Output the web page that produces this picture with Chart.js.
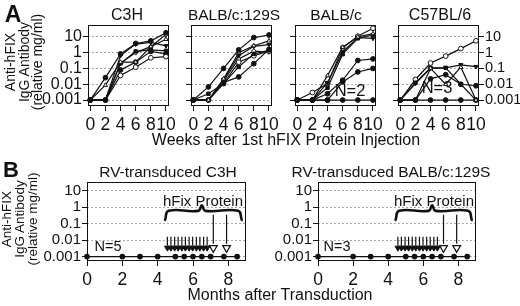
<!DOCTYPE html>
<html>
<head>
<meta charset="utf-8">
<script src="https://cdn.jsdelivr.net/npm/chart.js@4.4.0/dist/chart.umd.min.js"></script>
<style>
  body { margin: 0; width: 520px; height: 306px; overflow: hidden; background: #fff; position: relative;
         font-family: "Liberation Sans", Arial, sans-serif; color: #111; }
  canvas { position: absolute; }
  .t { position: absolute; white-space: nowrap; line-height: 1; transform: translate(-50%, -50%); }
  .yt { position: absolute; white-space: nowrap; text-align: center; transform: translate(-50%, -50%) rotate(-90deg); }
</style>
</head>
<body>
<script>
// ---- panel A: anti-hFIX IgG (relative mg/ml) after weekly protein injection ----
const weeks = [0, 2, 4, 6, 8, 10];
const decades = [0.001, 0.01, 0.1, 1, 10];

const c3h = [
  [0.001, 0.026, 0.83, 3.8, 5.6, 18],
  [0.001, 0.0087, 0.25, 0.25, 2.4, 7],
  [0.001, 0.001, 0.65, 3.5, 4.5, 2.7],
  [0.001, 0.001, 0.21, 1.2, 1.5, 1.3],
  [0.001, 0.001, 0.036, 0.12, 0.47, 0.56],
  [0.001, 0.001, 0.08, 0.25, 1.2, 0.83],
  [0.001, 0.001, 0.21, 1.0, 2.4, 14]
];
const balb129 = [
  [0.001, 0.0068, 0.1, 1.5, 9, 13],
  [0.001, 0.001, 0.022, 1.0, 2.75, 5.6],
  [0.001, 0.001, 0.02, 0.63, 2.5, 3.2],
  [0.001, 0.0025, 0.011, 0.125, 0.83, 1.4],
  [0.001, 0.001, 0.011, 0.25, 0.63, 1.25],
  [0.001, 0.001, 0.013, 0.029, 0.2, 1.6],
  [0.001, 0.001, 0.016, 0.4, 1.25, 1.1]
];
const balbc = [
  [0.001, 0.001, 0.0025, 0.018, 0.32, 0.4],
  [0.001, 0.001, 0.035, 2.2, 10, 16],
  [0.001, 0.001, 0.0125, 1.1, 9, 8],
  [0.001, 0.001, 0.006, 0.8, 8, 13],
  [0.001, 0.003, 0.011, 2, 11, 35],
  [0.001, 0.001, 0.001, 0.014, 0.06, 0.1],
  [0.001, 0.001, 0.001, 0.001, 0.001, 0.001]
];
const c57 = [
  [0.001, 0.001, 0.022, 0.04, 0.01, 0.008],
  [0.001, 0.001, 0.1, 0.01, 0.12, 0.001],
  [0.001, 0.011, 0.1, 0.11, 0.17, 0.13],
  [0.001, 0.0125, 0.11, 0.11, 0.01, 0.001],
  [0.001, 0.02, 0.22, 0.6, 1.8, 5.6],
  [0.001, 0.001, 0.001, 0.001, 0.001, 0.001]
];

// ---- panel B: retrovirus-transduced mice, months after transduction ----
const months = [0, 2, 3, 4, 5, 5.5, 6, 6.5, 7, 7.75, 8.5];
const rvC3H = [0.001, 0.001, 0.001, 0.001, 0.001, 0.001, 0.001, 0.001, 0.001, 0.001, 0.001];
const rvBalb129 = [0.001, 0.001, 0.001, 0.001, 0.001, 0.001, 0.001, 0.001, 0.001, 0.001, 0.001];
const shotMonths = [4.55, 4.75, 4.96, 5.16, 5.37, 5.57, 5.78, 5.98, 6.19, 6.39, 6.6, 6.8];
const boostMonths = [7.15, 7.9];
const shotTop = 0.016, shotEnd = 0.0045, shotTip = 0.0034;
const boostTop = 0.35, boostEnd = 0.006, boostTip = 0.0034;
const braceX = [4.42, 4.62, 6.3, 6.5, 6.7, 8.55, 8.76];
const braceY = [0.17, 0.6, 0.6, 1.3, 0.6, 0.6, 0.17];

Chart.defaults.font.family = '"Liberation Sans", Arial, sans-serif';
Chart.defaults.color = '#111';

// marker per mouse: [pointStyle, filled, rotation]
const marks = [['circle', 1], ['triangle', 0], ['triangle', 1, 180], ['rect', 1],
               ['circle', 0], ['circle', 1], ['rectRot', 0]];

const frame = {
  id: 'frame',
  beforeDatasetsDraw(chart) {
    const a = chart.chartArea, ctx = chart.ctx;
    ctx.save();
    ctx.strokeStyle = '#111';
    ctx.lineWidth = 1;
    ctx.strokeRect(Math.round(a.left) + 0.5, Math.round(a.top) + 0.5,
                   Math.round(a.right - a.left) - 1, Math.round(a.bottom - a.top) - 1);
    ctx.restore();
  }
};

function miceSets(rows) {
  return rows.map((row, i) => {
    const m = marks[i % marks.length];
    const flat = row.every(v => v === 0.001);
    return {
      data: row.map((v, j) => ({x: weeks[j], y: v})),
      borderColor: '#111', borderWidth: 1.2,
      pointStyle: flat ? 'circle' : m[0],
      pointRotation: m[2] || 0,
      pointRadius: 2.4, pointBorderWidth: 1,
      pointBackgroundColor: (flat || m[1]) ? '#111' : '#fff',
      pointBorderColor: '#111', clip: false
    };
  });
}

function arrowStems(xs, top, end) {
  const pts = [];
  xs.forEach(x => { pts.push({x: x, y: top}, {x: x, y: end}, {x: x, y: null}); });
  return pts;
}

function rvSets(values) {
  return [
    { data: months.map((m, i) => ({x: m, y: values[i]})), borderColor: '#111', borderWidth: 1.3,
      pointRadius: 2.2, pointBackgroundColor: '#111', pointBorderColor: '#111', clip: false },
    { data: arrowStems(shotMonths, shotTop, shotEnd), borderColor: '#111', borderWidth: 1.2,
      pointRadius: 0, spanGaps: false },
    { data: shotMonths.map(m => ({x: m, y: shotTip})), showLine: false, pointStyle: 'triangle',
      pointRotation: 180, pointRadius: 3.3, pointBackgroundColor: '#111', pointBorderColor: '#111' },
    { data: arrowStems(boostMonths, boostTop, boostEnd), borderColor: '#111', borderWidth: 1.2,
      pointRadius: 0, spanGaps: false },
    { data: boostMonths.map(m => ({x: m, y: boostTip})), showLine: false, pointStyle: 'triangle',
      pointRotation: 180, pointRadius: 4.5, pointBorderWidth: 1.2,
      pointBackgroundColor: '#fff', pointBorderColor: '#111' },
    { data: braceX.map((x, i) => ({x: x, y: braceY[i]})), borderColor: '#111', borderWidth: 2.6,
      pointRadius: 0, tension: 0.45, borderCapStyle: 'round' }
  ];
}

const P = 24;
function addChart(box, o) {
  const yl = o.yLeft, yr = o.yRight || 0, xh = o.xh;
  const cv = document.createElement('canvas');
  cv.width = box[2] - box[0] + yl + yr + 2 * P;
  cv.height = box[3] - box[1] + xh + 2 * P;
  cv.style.left = (box[0] - P - yl) + 'px';
  cv.style.top = (box[1] - P) + 'px';
  document.body.appendChild(cv);

  const yAxis = (pos, width, labels, onArea, size) => ({
    type: 'logarithmic', position: pos, min: o.yMin, max: o.yMax,
    afterBuildTicks: s => { s.ticks = decades.map(v => ({value: v})); },
    afterFit: s => { s.width = width; },
    grid: { drawOnChartArea: onArea, color: '#aaa', lineWidth: 1, tickLength: 5,
            tickColor: '#111', tickBorderDash: [] },
    border: { display: false, dash: [2, 2] },
    ticks: { display: labels, autoSkip: false, callback: v => String(v), font: {size: size},
             color: '#111', padding: o.yPad }
  });

  const scales = {
    x: {
      type: 'linear', min: o.xMin, max: o.xMax,
      afterBuildTicks: s => { s.ticks = o.xTicks.map(v => ({value: v})); },
      afterFit: s => { s.height = xh; },
      grid: { drawOnChartArea: false, tickLength: 5, tickColor: '#111' },
      border: { display: false },
      ticks: { font: {size: o.xFont}, color: '#111', padding: o.xPad, maxRotation: 0, autoSkip: false }
    },
    y: yAxis('left', yl, o.yLabels, true, o.yFont)
  };
  if (yr) scales.y2 = yAxis('right', yr, true, false, o.y2Font);

  new Chart(cv, {
    type: 'line',
    data: { datasets: o.datasets },
    options: {
      responsive: false, animation: false, events: [],
      layout: { padding: P },
      plugins: { legend: { display: false }, tooltip: { enabled: false } },
      scales: scales
    },
    plugins: [frame]
  });
}

// panel A geometry: x = 0 at x0, 7.55 px per week
const aCommon = { xMin: -0.3, xMax: 10.4, xTicks: weeks, yMin: 0.00042, yMax: 56,
                  xFont: 17.5, xPad: 4, xh: 32, yFont: 16, yPad: 1 };
function boxA(x0) { return [Math.round(x0 - 0.3 * 7.55), 25, Math.round(x0 + 10.4 * 7.55), 106]; }

addChart(boxA(90), Object.assign({}, aCommon, { yLeft: 50, yLabels: true, datasets: miceSets(c3h) }));
addChart(boxA(193), Object.assign({}, aCommon, { yLeft: 5, yLabels: false, datasets: miceSets(balb129) }));
addChart(boxA(297), Object.assign({}, aCommon, { yLeft: 5, yLabels: false, datasets: miceSets(balbc) }));
addChart(boxA(400), Object.assign({}, aCommon, { yLeft: 5, yLabels: false, yRight: 52, y2Font: 14.5,
                                                  datasets: miceSets(c57) }));

const bCommon = { xMin: 0, xMax: 9, xTicks: [0, 2, 4, 6, 8], yMin: 0.00054, yMax: 34,
                  xFont: 17.5, xPad: 4, xh: 32, yFont: 15, yPad: 1, yLeft: 50, yLabels: true };
addChart([87, 182, 246, 261], Object.assign({}, bCommon, { datasets: rvSets(rvC3H) }));
addChart([318, 182, 476, 261], Object.assign({}, bCommon, { datasets: rvSets(rvBalb129) }));

// text
function txt(s, x, y, size, extra) {
  const d = document.createElement('div');
  d.className = 't';
  d.textContent = s;
  d.style.left = x + 'px';
  d.style.top = y + 'px';
  d.style.fontSize = size + 'px';
  if (extra) Object.assign(d.style, extra);
  document.body.appendChild(d);
}
function ytitle(lines, x, y, size) {
  const d = document.createElement('div');
  d.className = 'yt';
  d.innerHTML = lines.join('<br>');
  d.style.left = x + 'px';
  d.style.top = y + 'px';
  d.style.fontSize = size + 'px';
  d.style.lineHeight = (size - 0.5) + 'px';
  document.body.appendChild(d);
}

txt('A', 13, 14, 23, { fontWeight: 'bold' });
txt('B', 11, 170, 22, { fontWeight: 'bold' });
txt('C3H', 127, 15, 16);
txt('BALB/c:129S', 234, 15, 15.5);
txt('BALB/c', 336, 15, 15.5);
txt('C57BL/6', 440, 15, 16);
txt('Weeks after 1st hFIX Protein Injection', 286, 140, 16);
txt('N=2', 350, 90, 16.5);
txt('N=3', 437, 87, 16.5);
ytitle(['Anti-hFIX', 'IgG Antibody', '(relative mg/ml)'], 24, 62, 14);

txt('RV-transduced C3H', 168, 172, 15.5);
txt('RV-transduced BALB/c:129S', 391, 172, 15.5);
txt('hFix Protein', 203, 200, 15);
txt('hFix Protein', 434, 200, 15);
txt('N=5', 108, 246, 14.5);
txt('N=3', 337, 246, 14.5);
txt('Months after Transduction', 280, 295, 16);
ytitle(['Anti-hFIX', 'IgG Antibody', '(relative mg/ml)'], 19, 219, 13.5);
</script>
</body>
</html>
